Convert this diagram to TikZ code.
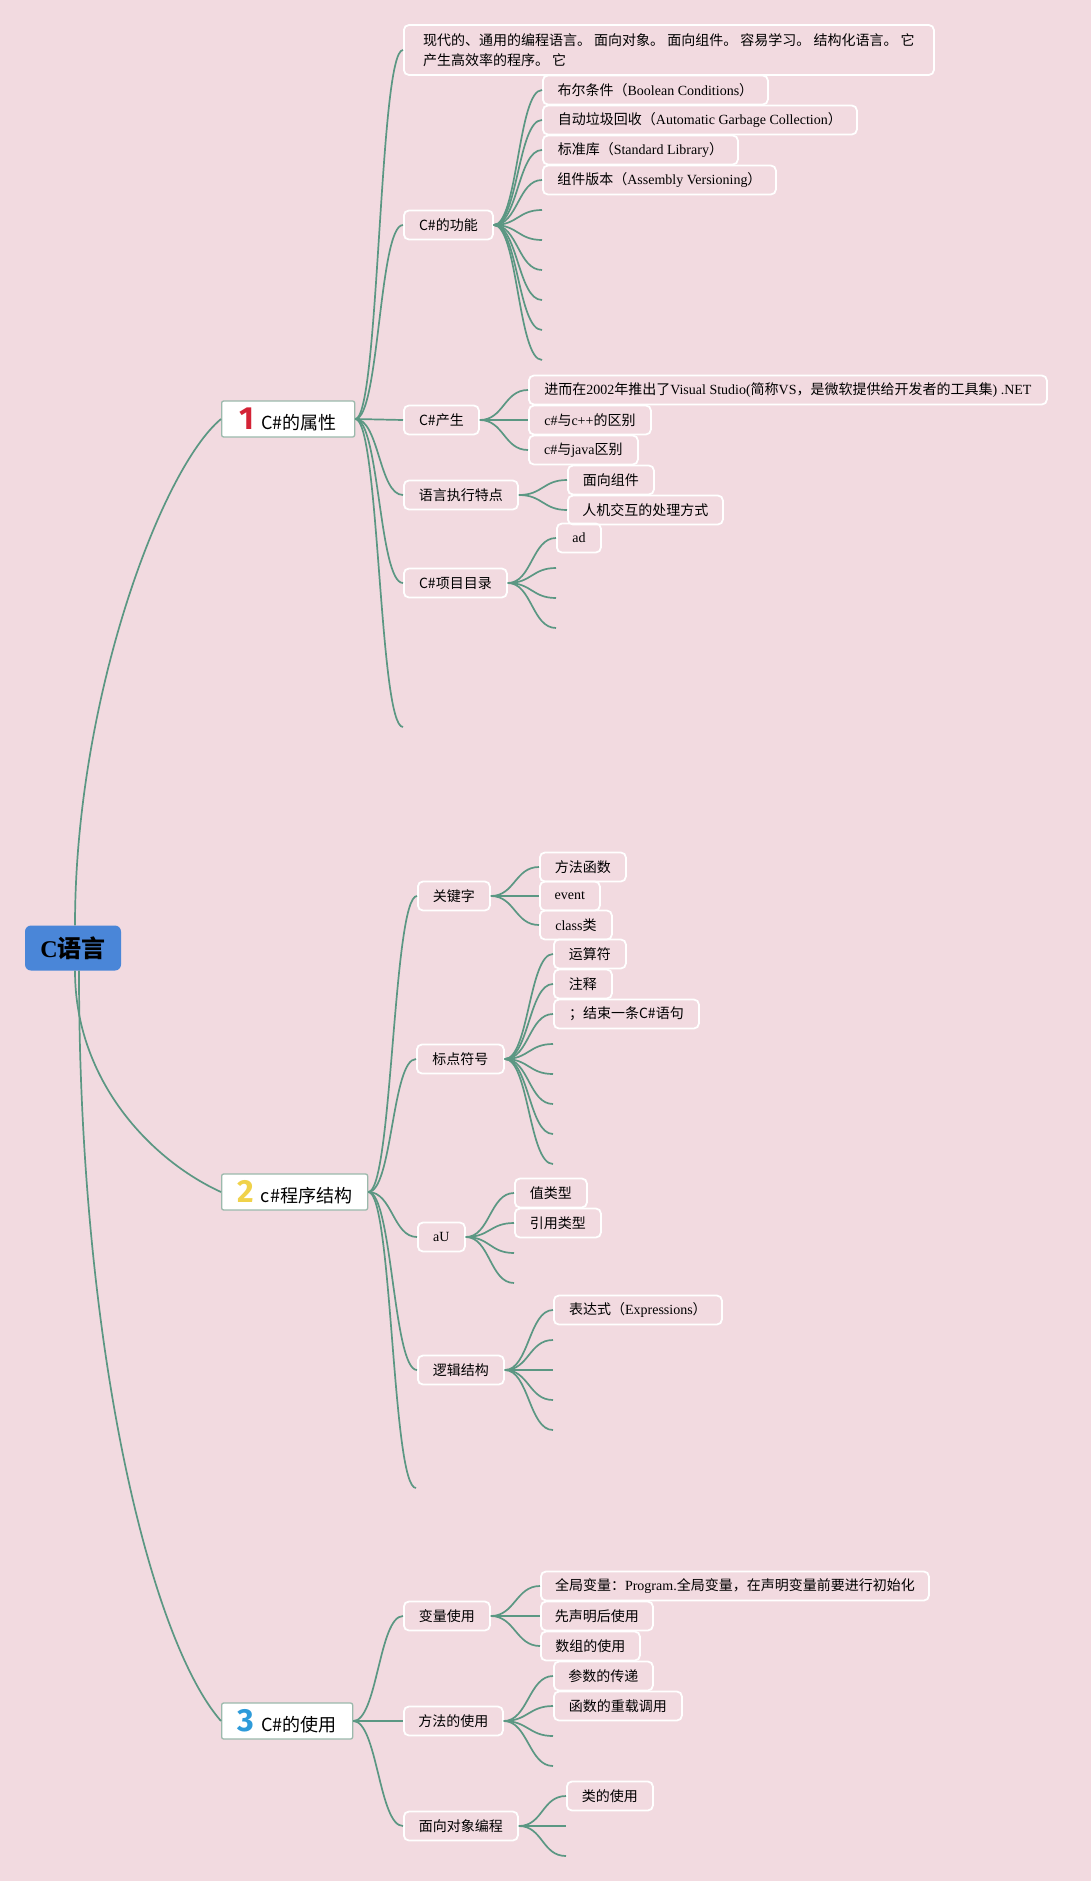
\documentclass[tikz,border=0pt]{standalone}
\usepackage{fontspec}
\setmainfont{Liberation Serif}
\newfontfamily\cjk{Noto Sans CJK SC}
\newfontfamily\numfont{Fira Sans}
\newcommand\zh[1]{{\cjk #1}}
\definecolor{bgpink}{HTML}{F2DAE0}
\definecolor{linegreen}{HTML}{5B9783}
\definecolor{rootblue}{HTML}{4A86D8}
\definecolor{topicbord}{HTML}{9BB9AC}
\definecolor{numred}{HTML}{D42336}
\definecolor{numyellow}{HTML}{F0D24A}
\definecolor{numblue}{HTML}{2E9BDA}
\tikzset{
  conn/.style={draw=linegreen, line width=1.7pt},
  rootbox/.style={fill=rootblue, rounded corners=6pt, minimum width=96pt, minimum height=45pt, inner sep=0pt, font=\fontsize{24}{26}\selectfont\bfseries},
  topicbox/.style={fill=white, draw=topicbord, line width=1.3pt, rounded corners=2pt, minimum height=36pt, inner xsep=4pt, inner ysep=0pt, anchor=west, font=\fontsize{18}{20}\selectfont},
  subbox/.style={draw=white, line width=1.8pt, rounded corners=5pt, minimum height=29pt, inner xsep=4pt, inner ysep=0pt, anchor=west, font=\fontsize{14}{16}\selectfont},
}
\newcommand\mylink[3][24]{\draw[conn] (#2.east) .. controls +(#1,0) and +(-#1,0) .. #3;}
\newcommand\bignum[2]{{\numfont\bfseries\fontsize{32}{32}\selectfont\color{#1}#2}\hspace{7pt}}
\begin{document}
\begin{tikzpicture}[x=1pt,y=-1pt]
\fill[bgpink] (0,0) rectangle (1091,1881);
\useasboundingbox (0,0) rectangle (1091,1881);

% root and main topics
\node[rootbox] (root) at (73,948) {C\zh{语言}};
\node[topicbox, minimum width=133pt] (t1) at (221,419) {\bignum{numred}{1}\zh{C\#的属性}};
\node[topicbox, minimum width=146pt] (t2) at (221,1192) {\bignum{numyellow}{2}\zh{c\#程序结构}};
\node[topicbox, minimum width=131pt] (t3) at (221,1721) {\bignum{numblue}{3}\zh{C\#的使用}};

% ---------- topic 1 ----------
\node[subbox, minimum width=530pt, minimum height=50pt, align=left, font=\fontsize{14}{20}\selectfont\cjk] (desc) at (403,50) {现代的、通用的编程语言。 面向对象。 面向组件。 容易学习。 结构化语言。 它\\产生高效率的程序。 它};
\node[subbox, minimum width=89pt] (fn) at (403,225) {\zh{C\#的功能}};
\node[subbox, minimum width=75pt] (cs) at (403,420) {\zh{C\#产生}};
\node[subbox, minimum width=114pt] (yy) at (403,495) {\zh{语言执行特点}};
\node[subbox, minimum width=103pt] (ml) at (403,583) {\zh{C\#项目目录}};
\coordinate (e1) at (403,727);

\node[subbox, minimum width=225pt] (b1) at (542,90) {\zh{布尔条件（}Boolean Conditions\zh{）}};
\node[subbox, minimum width=314pt] (b2) at (542,120) {\zh{自动垃圾回收（}Automatic Garbage Collection\zh{）}};
\node[subbox, minimum width=195pt] (b3) at (542,150) {\zh{标准库（}Standard Library\zh{）}};
\node[subbox, minimum width=233pt] (b4) at (542,180) {\zh{组件版本（}Assembly Versioning\zh{）}};
\coordinate (b5) at (542,210);
\coordinate (b6) at (542,240);
\coordinate (b7) at (542,270);
\coordinate (b8) at (542,300);
\coordinate (b9) at (542,330);
\coordinate (b10) at (542,360);

\node[subbox, minimum width=518pt] (c1) at (528,390) {\zh{进而在}2002\zh{年推出了}Visual Studio(\zh{简称}VS\zh{，是微软提供给开发者的工具集}) .NET};
\node[subbox, minimum width=122pt] (c2) at (528,420) {c\#\zh{与}c++\zh{的区别}};
\node[subbox, minimum width=109pt] (c3) at (528,450) {c\#\zh{与}java\zh{区别}};

\node[subbox, minimum width=86pt] (y1) at (567,480) {\zh{面向组件}};
\node[subbox, minimum width=155pt] (y2) at (567,510) {\zh{人机交互的处理方式}};

\node[subbox, minimum width=44pt] (m1) at (556,538) {ad};
\coordinate (m2) at (556,568);
\coordinate (m3) at (556,598);
\coordinate (m4) at (556,628);

% ---------- topic 2 ----------
\node[subbox, minimum width=72pt] (kw) at (417,896) {\zh{关键字}};
\node[subbox, minimum width=87pt] (bd) at (416,1059) {\zh{标点符号}};
\node[subbox, minimum width=47pt] (au) at (417,1237) {aU};
\node[subbox, minimum width=86pt] (lj) at (417,1370) {\zh{逻辑结构}};
\coordinate (e2) at (416,1488);

\node[subbox, minimum width=86pt] (k1) at (539,867) {\zh{方法函数}};
\node[subbox, minimum width=60pt] (k2) at (539,896) {event};
\node[subbox, minimum width=72pt] (k3) at (539,925) {class\zh{类}};

\node[subbox, minimum width=72pt] (p1) at (553,954) {\zh{运算符}};
\node[subbox, minimum width=58pt] (p2) at (553,984) {\zh{注释}};
\node[subbox, minimum width=145pt] (p3) at (553,1014) {\zh{；结束一条C\#语句}};
\coordinate (p4) at (553,1044);
\coordinate (p5) at (553,1074);
\coordinate (p6) at (553,1104);
\coordinate (p7) at (553,1134);
\coordinate (p8) at (553,1164);

\node[subbox, minimum width=72pt] (a1) at (514,1193) {\zh{值类型}};
\node[subbox, minimum width=86pt] (a2) at (514,1223) {\zh{引用类型}};
\coordinate (a3) at (514,1253);
\coordinate (a4) at (514,1283);

\node[subbox, minimum width=168pt] (l1) at (553,1310) {\zh{表达式（}Expressions\zh{）}};
\coordinate (l2) at (553,1340);
\coordinate (l3) at (553,1370);
\coordinate (l4) at (553,1400);
\coordinate (l5) at (553,1430);

% ---------- topic 3 ----------
\node[subbox, minimum width=86pt] (bl) at (403,1616) {\zh{变量使用}};
\node[subbox, minimum width=99pt] (ff) at (403,1721) {\zh{方法的使用}};
\node[subbox, minimum width=114pt] (mx) at (403,1826) {\zh{面向对象编程}};

\node[subbox, minimum width=388pt] (v1) at (540,1586) {\zh{全局变量：}Program.\zh{全局变量，在声明变量前要进行初始化}};
\node[subbox, minimum width=112pt] (v2) at (540,1616) {\zh{先声明后使用}};
\node[subbox, minimum width=99pt] (v3) at (540,1646) {\zh{数组的使用}};

\node[subbox, minimum width=99pt] (f1) at (553,1676) {\zh{参数的传递}};
\node[subbox, minimum width=128pt] (f2) at (553,1706) {\zh{函数的重载调用}};
\coordinate (f3) at (553,1736);
\coordinate (f4) at (553,1766);

\node[subbox, minimum width=86pt] (x1) at (566,1796) {\zh{类的使用}};
\coordinate (x2) at (566,1826);
\coordinate (x3) at (566,1856);

% ---------- connectors ----------
\draw[conn] ([xshift=2pt]root.north) .. controls +(0,-225) and +(-60,50) .. (t1.west);
\draw[conn] ([xshift=2pt]root.south) .. controls +(0,110) and +(-70,-32) .. (t2.west);
\draw[conn] ([xshift=6pt]root.south) .. controls +(0,380) and +(-70,-80) .. (t3.west);

\mylink{t1}{(desc.west)}
\mylink{t1}{(fn.west)}
\mylink{t1}{(cs.west)}
\mylink{t1}{(yy.west)}
\mylink{t1}{(ml.west)}
\mylink{t1}{(e1)}

\foreach \c in {b1,b2,b3,b4}{\mylink{fn}{(\c.west)}}
\foreach \c in {b5,b6,b7,b8,b9,b10}{\mylink{fn}{(\c)}}
\foreach \c in {c1,c2,c3}{\mylink{cs}{(\c.west)}}
\foreach \c in {y1,y2}{\mylink{yy}{(\c.west)}}
\mylink{ml}{(m1.west)}
\foreach \c in {m2,m3,m4}{\mylink{ml}{(\c)}}

\mylink{t2}{(kw.west)}
\mylink{t2}{(bd.west)}
\mylink{t2}{(au.west)}
\mylink{t2}{(lj.west)}
\mylink{t2}{(e2)}
\foreach \c in {k1,k2,k3}{\mylink{kw}{(\c.west)}}
\foreach \c in {p1,p2,p3}{\mylink{bd}{(\c.west)}}
\foreach \c in {p4,p5,p6,p7,p8}{\mylink{bd}{(\c)}}
\foreach \c in {a1,a2}{\mylink{au}{(\c.west)}}
\foreach \c in {a3,a4}{\mylink{au}{(\c)}}
\mylink{lj}{(l1.west)}
\foreach \c in {l2,l3,l4,l5}{\mylink{lj}{(\c)}}

\mylink{t3}{(bl.west)}
\mylink{t3}{(ff.west)}
\mylink{t3}{(mx.west)}
\foreach \c in {v1,v2,v3}{\mylink{bl}{(\c.west)}}
\foreach \c in {f1,f2}{\mylink{ff}{(\c.west)}}
\foreach \c in {f3,f4}{\mylink{ff}{(\c)}}
\mylink{mx}{(x1.west)}
\foreach \c in {x2,x3}{\mylink{mx}{(\c)}}
\end{tikzpicture}
\end{document}
